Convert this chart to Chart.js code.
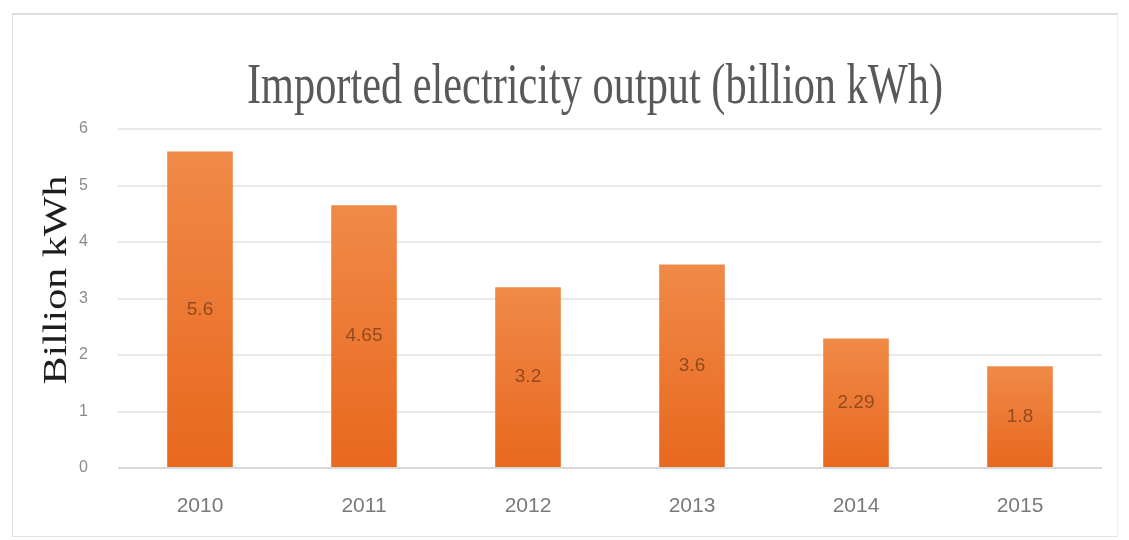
<!DOCTYPE html>
<html>
<head>
<meta charset="utf-8">
<script src="https://cdn.jsdelivr.net/npm/chart.js@4"></script>
<style>
  html, body { margin: 0; padding: 0; background: #fff; }
  #box {
    position: absolute; left: 12px; top: 13px;
    width: 1104px; height: 521px;
    border-top: 2px solid #dedede; border-left: 1px solid #dedede;
    border-bottom: 1px solid #e4e4e4; border-right: 1px solid #f0f0f0;
  }
  #chart { display: block; }
</style>
</head>
<body>
<div id="box"><canvas id="chart" width="1103" height="520"></canvas></div>
<script>
const years = ["2010", "2011", "2012", "2013", "2014", "2015"];
const imported = [5.6, 4.65, 3.2, 3.6, 2.29, 1.8];
const yTicks = [0, 1, 2, 3, 4, 5, 6];
const titleText = "Imported electricity output (billion kWh)";
const yTitleText = "Billion kWh";

// title and axis title are stretched text boxes in the original
const textPlugin = {
  id: "textBoxes",
  afterDraw: function (chart) {
    const ctx = chart.ctx;
    ctx.save();
    ctx.fillStyle = "#595959";
    ctx.font = "56px 'Liberation Serif', 'Times New Roman', serif";
    ctx.textAlign = "center";
    ctx.textBaseline = "alphabetic";
    ctx.translate(582, 88);
    ctx.scale(0.756, 1);
    ctx.fillText(titleText, 0, 0);
    ctx.restore();

    ctx.save();
    ctx.fillStyle = "#1e1e1e";
    ctx.font = "42px 'Liberation Serif', 'Times New Roman', serif";
    ctx.textAlign = "center";
    ctx.textBaseline = "alphabetic";
    ctx.translate(53, 265);
    ctx.rotate(-Math.PI / 2);
    ctx.scale(1, 0.79);
    ctx.fillText(yTitleText, 0, 0);
    ctx.restore();
  }
};

const labelPlugin = {
  id: "barLabels",
  afterDatasetsDraw: function (chart) {
    const ctx = chart.ctx;
    const meta = chart.getDatasetMeta(0);
    ctx.save();
    ctx.fillStyle = "rgba(125, 62, 22, 0.8)";
    ctx.font = "19px 'Liberation Sans', Arial, sans-serif";
    ctx.textAlign = "center";
    ctx.textBaseline = "middle";
    meta.data.forEach(function (bar, i) {
      ctx.fillText(String(imported[i]), bar.x, (bar.y + bar.base) / 2);
    });
    ctx.restore();
  }
};

function barFill(context) {
  const chart = context.chart;
  if (!chart.chartArea) return "#EC7A32";
  const yScale = chart.scales.y;
  const top = yScale.getPixelForValue(context.raw);
  const bottom = yScale.getPixelForValue(0);
  const g = chart.ctx.createLinearGradient(0, top, 0, bottom);
  g.addColorStop(0, "#F08A48");
  g.addColorStop(1, "#E8681E");
  return g;
}

new Chart(document.getElementById("chart"), {
  type: "bar",
  data: {
    labels: years,
    datasets: [{
      label: titleText,
      data: imported,
      backgroundColor: barFill,
      borderWidth: 0,
      barPercentage: 0.4,
      categoryPercentage: 1.0
    }]
  },
  options: {
    responsive: false,
    animation: false,
    layout: { padding: { top: 114, right: 14, left: 0, bottom: 0 } },
    plugins: {
      legend: { display: false },
      title: { display: false },
      tooltip: { enabled: false }
    },
    scales: {
      x: {
        grid: { display: false, drawTicks: false },
        border: { display: false },
        ticks: {
          color: "#7a7a7a",
          padding: 26,
          font: { family: "'Liberation Sans', Arial, sans-serif", size: 21 }
        },
        afterFit: function (scale) { scale.height = 67; }
      },
      y: {
        min: 0,
        max: 6,
        afterBuildTicks: function (scale) {
          scale.ticks = yTicks.map(function (v) { return { value: v }; });
        },
        grid: {
          color: function (c) { return c.tick.value === 0 ? "#d8d8d8" : "#e9e9e9"; },
          lineWidth: 2,
          drawTicks: false
        },
        border: { display: false },
        ticks: {
          color: "#8a8a8a",
          padding: 30,
          font: { family: "'Liberation Sans', Arial, sans-serif", size: 16 }
        },
        afterFit: function (scale) { scale.width = 105; }
      }
    }
  },
  plugins: [labelPlugin, textPlugin]
});
</script>
</body>
</html>
